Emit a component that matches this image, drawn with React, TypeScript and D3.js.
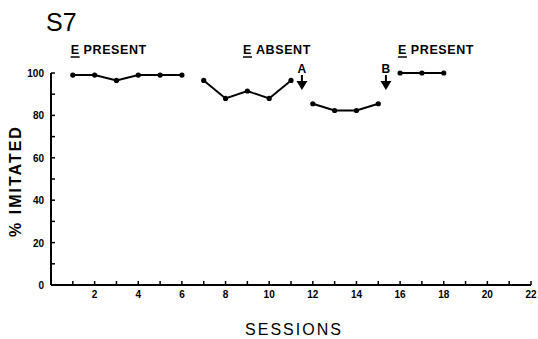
import React, { useEffect, useRef } from "react";
import * as d3 from "d3";

// sessions and % imitated for each phase
const phase1Sessions = [1, 2, 3, 4, 5, 6];
const phase1Values = [99, 99, 96.5, 99, 99, 99];
const phase2Sessions = [7, 8, 9, 10, 11];
const phase2Values = [96.5, 88, 91.5, 88, 96.5];
const phase3Sessions = [12, 13, 14, 15];
const phase3Values = [85.5, 82.3, 82.3, 85.5];
const phase4Sessions = [16, 17, 18];
const phase4Values = [100, 100, 100];

const phaseLabels = ["PRESENT", "ABSENT", "PRESENT"];
const phaseLabelSessions = [0.9, 8.8, 15.9];

const markerLabels = ["A", "B"];
const markerSessions = [11.5, 15.35];

const xTickValues = d3.range(2, 23, 2);
const yTickValues = [0, 20, 40, 60, 80, 100];

export default function App() {
  const ref = useRef<SVGSVGElement>(null);

  useEffect(() => {
    const svg = d3.select(ref.current);
    svg.selectAll("*").remove();

    const x = d3.scaleLinear().domain([0, 22]).range([51, 531]);
    const y = d3.scaleLinear().domain([0, 100]).range([285, 73]);
    const font = "'Liberation Sans', Arial, sans-serif";

    // axes
    svg.append("line").attr("x1", x(0)).attr("x2", x(22)).attr("y1", y(0)).attr("y2", y(0))
      .attr("stroke", "#000").attr("stroke-width", 2);
    svg.append("line").attr("x1", x(0)).attr("x2", x(0)).attr("y1", y(0)).attr("y2", y(100))
      .attr("stroke", "#000").attr("stroke-width", 2);

    svg.selectAll(".xt").data(d3.range(1, 23)).enter().append("line")
      .attr("x1", (d) => x(d)).attr("x2", (d) => x(d))
      .attr("y1", y(0)).attr("y2", y(0) - 4)
      .attr("stroke", "#000").attr("stroke-width", 1.5);
    svg.selectAll(".yt").data(d3.range(10, 101, 10)).enter().append("line")
      .attr("x1", x(0)).attr("x2", x(0) + 4)
      .attr("y1", (d) => y(d)).attr("y2", (d) => y(d))
      .attr("stroke", "#000").attr("stroke-width", 1.5);

    svg.selectAll(".xl").data(xTickValues).enter().append("text")
      .attr("x", (d) => x(d)).attr("y", y(0) + 13)
      .attr("text-anchor", "middle").attr("font-family", font)
      .attr("font-weight", "bold").attr("font-size", 10).text((d) => d);
    svg.selectAll(".yl").data(yTickValues).enter().append("text")
      .attr("x", x(0) - 7).attr("y", (d) => y(d) + 4)
      .attr("text-anchor", "end").attr("font-family", font)
      .attr("font-weight", "bold").attr("font-size", 10).text((d) => d);

    // titles
    svg.append("text").attr("x", 46).attr("y", 31).attr("font-family", font)
      .attr("font-size", 25).text("S7");
    svg.append("text").attr("x", 294).attr("y", 335).attr("text-anchor", "middle")
      .attr("font-family", font).attr("font-size", 16).attr("letter-spacing", 2).text("SESSIONS");
    svg.append("text").attr("transform", "translate(21,181) rotate(-90)")
      .attr("text-anchor", "middle").attr("font-family", font).attr("font-size", 16)
      .attr("font-weight", "bold").attr("letter-spacing", 2).text("% IMITATED");

    // phase labels with underlined E
    phaseLabels.forEach((lab, i) => {
      const px = x(phaseLabelSessions[i]);
      const t = svg.append("text").attr("x", px).attr("y", 54).attr("font-family", font)
        .attr("font-weight", "bold").attr("font-size", 12.5).attr("letter-spacing", 0.6);
      t.append("tspan").text("E");
      t.append("tspan").attr("dx", 4).text(lab);
      svg.append("line").attr("x1", px).attr("x2", px + 9).attr("y1", 57).attr("y2", 57)
        .attr("stroke", "#000").attr("stroke-width", 1.5);
    });

    // data
    const phases = [
      [phase1Sessions, phase1Values],
      [phase2Sessions, phase2Values],
      [phase3Sessions, phase3Values],
      [phase4Sessions, phase4Values],
    ];
    const line = d3.line<[number, number]>().x((d) => x(d[0])).y((d) => y(d[1]));
    phases.forEach(([s, v]) => {
      const pts = s.map((d, i) => [d, v[i]] as [number, number]);
      svg.append("path").attr("d", line(pts)).attr("fill", "none")
        .attr("stroke", "#000").attr("stroke-width", 2);
      svg.selectAll(null).data(pts).enter().append("circle")
        .attr("cx", (d) => x(d[0])).attr("cy", (d) => y(d[1])).attr("r", 2.6).attr("fill", "#000");
    });

    // arrows
    markerLabels.forEach((lab, i) => {
      const ax = x(markerSessions[i]);
      svg.append("text").attr("x", ax).attr("y", 73).attr("text-anchor", "middle")
        .attr("font-family", font).attr("font-weight", "bold").attr("font-size", 12).text(lab);
      svg.append("line").attr("x1", ax).attr("x2", ax).attr("y1", 75).attr("y2", 84)
        .attr("stroke", "#000").attr("stroke-width", 2);
      svg.append("path")
        .attr("d", `M${ax - 5.5},${81} L${ax + 5.5},${81} L${ax},${90} Z`).attr("fill", "#000");
    });
  }, []);

  return (
    <svg ref={ref} width={538} height={339}
      style={{ position: "absolute", left: 0, top: 0, background: "#fff" }} />
  );
}
